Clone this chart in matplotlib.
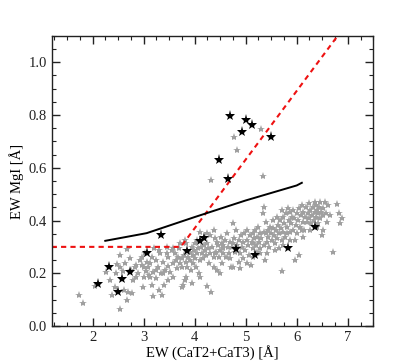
import matplotlib
matplotlib.use("Agg")
import matplotlib.pyplot as plt
from matplotlib.ticker import MultipleLocator
import numpy as np

# Gray comparison sample (EW CaT2+CaT3, EW MgI)
gray_x = [1.73, 1.81, 2.05, 2.26, 2.34, 2.39, 2.44, 2.48, 2.54, 2.54, 2.59, 2.61, 2.67, 2.68, 2.70,
          2.73, 2.78, 2.80, 2.83, 2.86, 2.90, 2.93, 2.96, 3.00, 3.01, 3.03, 3.05, 3.09, 3.11, 3.12,
          3.16, 3.18, 3.19, 3.21, 3.24, 3.25, 3.28, 3.31, 3.32, 3.35, 3.37, 3.39, 3.40, 3.42, 3.45,
          3.47, 3.48, 3.52, 3.55, 3.57, 3.58, 3.61, 3.63, 3.65, 3.68, 3.70, 3.71, 3.75, 3.76, 3.78,
          3.79, 3.81, 3.83, 3.84, 3.86, 3.88, 3.90, 3.91, 3.92, 3.94, 3.96, 3.97, 3.99, 4.01, 4.03,
          4.04, 4.05, 4.07, 4.09, 4.10, 4.12, 4.14, 4.17, 4.18, 4.20, 4.22, 4.24, 4.25, 4.27, 4.29,
          4.30, 4.33, 4.35, 4.37, 4.38, 4.40, 4.42, 4.43, 4.45, 4.47, 4.50, 4.51, 4.53, 4.55, 4.56,
          4.59, 4.61, 4.63, 4.65, 4.67, 4.69, 4.71, 4.73, 4.76, 4.77, 4.79, 4.82, 4.84, 4.86, 4.89,
          4.90, 4.92, 4.94, 4.95, 4.97, 4.99, 5.02, 5.03, 5.05, 5.07, 5.08, 5.10, 5.12, 5.14, 5.15,
          5.16, 5.18, 5.20, 5.22, 5.23, 5.25, 5.27, 5.28, 5.29, 5.31, 5.33, 5.35, 5.36, 5.38, 5.39,
          5.40, 5.42, 5.43, 5.44, 5.46, 5.49, 5.51, 5.53, 5.54, 5.56, 5.58, 5.59, 5.61, 5.63, 5.65,
          5.66, 5.67, 5.69, 5.71, 5.71, 5.73, 5.74, 5.76, 5.77, 5.79, 5.80, 5.82, 5.84, 5.86, 5.87,
          5.88, 5.90, 5.92, 5.93, 5.95, 5.97, 5.99, 6.00, 6.02, 6.04, 6.05, 6.07, 6.08, 6.10, 6.12,
          6.13, 6.15, 6.17, 6.18, 6.20, 6.22, 6.24, 6.25, 6.26, 6.28, 6.30, 6.31, 6.33, 6.35, 6.37,
          6.38, 6.39, 6.41, 6.42, 6.44, 6.46, 6.47, 6.49, 6.51, 6.52, 6.55, 6.57, 6.60, 6.62, 6.65,
          6.72, 6.78, 6.82, 6.84, 6.88,
          4.24, 4.31, 4.10, 4.01, 3.81, 3.71, 3.58, 3.45, 3.31, 3.16, 3.06, 2.96, 2.86, 2.76, 2.63,
          2.54, 2.46, 4.53, 4.69, 4.86, 5.02, 5.15, 5.28, 5.42, 5.58, 5.74, 5.87, 6.00, 6.13, 6.26,
          6.39, 6.52, 3.84, 3.94, 3.75, 3.48, 3.39, 3.25, 3.12, 2.99, 4.10, 4.37, 4.50, 4.76, 4.89,
          4.56, 4.40, 4.43, 4.76, 5.15, 5.35, 5.48, 5.61, 5.71, 5.80, 5.97, 6.10, 6.36, 6.46,
          5.30, 4.77, 4.84, 4.33, 5.33]
gray_y = [0.118, 0.086, 0.152, 0.206, 0.174, 0.118, 0.149, 0.234, 0.269, 0.066, 0.210, 0.137, 0.291, 0.099, 0.130,
          0.257, 0.124, 0.174, 0.225, 0.187, 0.202, 0.250, 0.231, 0.225, 0.187, 0.276, 0.210, 0.225, 0.193, 0.238,
          0.156, 0.114, 0.204, 0.295, 0.250, 0.181, 0.225, 0.137, 0.276, 0.200, 0.118, 0.244, 0.156, 0.212, 0.301,
          0.228, 0.263, 0.206, 0.288, 0.238, 0.187, 0.276, 0.250, 0.219, 0.263, 0.295, 0.238, 0.257, 0.225, 0.156,
          0.269, 0.174, 0.244, 0.314, 0.225, 0.263, 0.282, 0.250, 0.212, 0.301, 0.269, 0.238, 0.288, 0.257, 0.225,
          0.326, 0.276, 0.295, 0.200, 0.250, 0.301, 0.276, 0.257, 0.307, 0.288, 0.269, 0.152, 0.316, 0.295, 0.238,
          0.276, 0.130, 0.301, 0.364, 0.263, 0.333, 0.282, 0.212, 0.307, 0.263, 0.288, 0.339, 0.314, 0.276, 0.295,
          0.326, 0.263, 0.351, 0.301, 0.276, 0.320, 0.222, 0.301, 0.389, 0.333, 0.282, 0.364, 0.307, 0.326, 0.276,
          0.345, 0.301, 0.320, 0.257, 0.351, 0.288, 0.326, 0.364, 0.307, 0.269, 0.345, 0.231, 0.320, 0.295, 0.351,
          0.333, 0.364, 0.307, 0.282, 0.339, 0.377, 0.320, 0.351, 0.295, 0.333, 0.427, 0.453, 0.307, 0.250, 0.396,
          0.351, 0.320, 0.364, 0.339, 0.301, 0.351, 0.326, 0.370, 0.402, 0.345, 0.314, 0.364, 0.333, 0.383, 0.351,
          0.295, 0.402, 0.370, 0.210, 0.326, 0.415, 0.358, 0.389, 0.339, 0.427, 0.377, 0.446, 0.402, 0.358, 0.434,
          0.389, 0.415, 0.364, 0.440, 0.408, 0.250, 0.383, 0.427, 0.402, 0.446, 0.269, 0.377, 0.421, 0.459, 0.396,
          0.434, 0.364, 0.415, 0.453, 0.396, 0.427, 0.465, 0.408, 0.440, 0.389, 0.421, 0.453, 0.402, 0.434, 0.459,
          0.415, 0.440, 0.389, 0.427, 0.453, 0.408, 0.434, 0.345, 0.446, 0.421, 0.472, 0.427, 0.396, 0.459, 0.421,
          0.282, 0.463, 0.427, 0.389, 0.408,
          0.351, 0.345, 0.358, 0.316, 0.326, 0.314, 0.295, 0.276, 0.288, 0.263, 0.244, 0.263, 0.231, 0.212, 0.238,
          0.225, 0.200, 0.238, 0.257, 0.244, 0.238, 0.263, 0.276, 0.276, 0.288, 0.307, 0.326, 0.351, 0.339, 0.364,
          0.377, 0.364, 0.187, 0.162, 0.149, 0.174, 0.200, 0.212, 0.187, 0.149, 0.187, 0.225, 0.200, 0.225, 0.219,
          0.307, 0.276, 0.320, 0.314, 0.314, 0.358, 0.377, 0.415, 0.440, 0.351, 0.326, 0.364, 0.472, 0.470,
          0.748, 0.718, 0.667, 0.554, 0.570]

# Highlighted sample (black stars)
black_x = [2.11, 2.32, 2.49, 2.57, 2.725, 3.065, 3.35, 3.85, 4.11, 4.18, 4.48,
           4.65, 4.69, 4.82, 4.92, 5.01, 5.12, 5.18, 5.50, 5.83, 6.36]
black_y = [0.158, 0.222, 0.128, 0.177, 0.204, 0.276, 0.345, 0.286, 0.322, 0.333, 0.628,
           0.557, 0.795, 0.291, 0.737, 0.781, 0.761, 0.268, 0.718, 0.296, 0.377]

# Black solid relation
line_x = [2.25, 3.06, 4.0, 5.0, 6.0, 6.10]
line_y = [0.323, 0.352, 0.413, 0.476, 0.533, 0.543]

# Red dashed boundary
red_x = [1.2, 3.73, 6.80]
red_y = [0.30, 0.30, 1.10]

plt.rcParams['font.family'] = ['Liberation Serif', 'DejaVu Serif']
fig = plt.figure(figsize=(4.15, 3.63), dpi=100)
ax = fig.add_axes([0.1245, 0.102, 0.775, 0.799])

ax.plot(gray_x, gray_y, linestyle='none', marker='*', markersize=6,
        color='#a0a0a0', markeredgewidth=0)
ax.plot(red_x, red_y, color='#ee1111', linestyle=(0, (2.5, 2.0)), linewidth=1.5)
ax.plot(line_x, line_y, color='black', linewidth=1.4)
ax.plot(black_x, black_y, linestyle='none', marker='*', markersize=8,
        color='black', markeredgewidth=0)

ax.set_xlim(1.2, 7.5)
ax.set_ylim(0.0, 1.1)
ax.xaxis.set_major_locator(MultipleLocator(1))
ax.xaxis.set_minor_locator(MultipleLocator(0.25))
ax.yaxis.set_major_locator(MultipleLocator(0.2))
ax.yaxis.set_minor_locator(MultipleLocator(0.05))
ax.yaxis.set_major_formatter(matplotlib.ticker.FormatStrFormatter('%.1f'))
ax.tick_params(which='both', direction='in', top=True, right=True, labelsize=10.5, colors='#222222')
ax.tick_params(which='major', length=6, width=1)
ax.tick_params(which='minor', length=3, width=0.8)
for s in ax.spines.values():
    s.set_linewidth(1)
    s.set_color('#222222')

ax.set_xlabel('EW (CaT2+CaT3) [Å]', fontsize=10.5, labelpad=1)
ax.set_ylabel('EW MgI [Å]', fontsize=10.5, labelpad=3)

fig.savefig('out.png', dpi=100)
